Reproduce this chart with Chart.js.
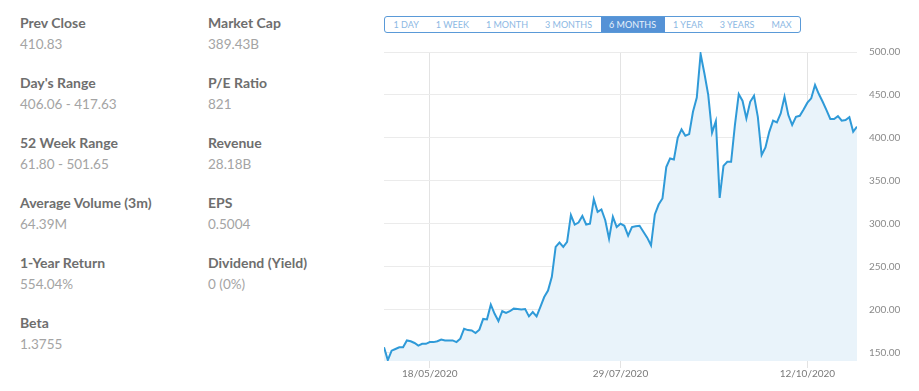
<!DOCTYPE html>
<html lang="en">

<head>
    <meta charset="UTF-8">
    <title>Stock Overview</title>
    <script src="https://cdn.jsdelivr.net/npm/chart.js"></script>
    <style>
        body {
            margin: 0;
            width: 919px;
            height: 391px;
            background: #fff;
            font-family: Lato, "Open Sans", sans-serif;
            position: relative;
            overflow: hidden;
        }

        .stat {
            position: absolute;
        }

        .stat .label {
            font-size: 14px;
            font-weight: 700;
            color: #6e6e6e;
            line-height: 14px;
        }

        .stat .value {
            font-size: 13.5px;
            color: #a4a4a4;
            line-height: 14px;
            margin-top: 7px;
        }

        .ranges {
            position: absolute;
            left: 384px;
            top: 16px;
            height: 15px;
            display: flex;
            border: 1px solid #5a9ad8;
            border-radius: 3px;
            overflow: hidden;
        }

        .ranges div {
            padding: 0 8.5px;
            font-size: 9px;
            line-height: 15px;
            color: #8cb8e3;
        }

        .ranges div.active {
            background: #5592d6;
            color: #e8f1fb;
        }

        .chart-box {
            position: absolute;
            left: 384px;
            top: 34px;
            width: 535px;
            height: 357px;
        }
    </style>
</head>

<body>

    <div id="stats"></div>

    <div class="ranges" id="ranges"></div>

    <div class="chart-box">
        <canvas id="price-chart"></canvas>
    </div>

    <script>
        const statLabels = ['Prev Close', "Day's Range", '52 Week Range', 'Average Volume (3m)', '1-Year Return', 'Beta',
            'Market Cap', 'P/E Ratio', 'Revenue', 'EPS', 'Dividend (Yield)'];
        const statValues = ['410.83', '406.06 - 417.63', '61.80 - 501.65', '64.39M', '554.04%', '1.3755',
            '389.43B', '821', '28.18B', '0.5004', '0 (0%)'];

        const rangeLabels = ['1 DAY', '1 WEEK', '1 MONTH', '3 MONTHS', '6 MONTHS', '1 YEAR', '3 YEARS', 'MAX'];
        const activeRange = '6 MONTHS';

        // closing prices, one per trading day
        const prices = [
            156, 141, 152, 154, 156, 156, 164, 163, 161, 158, 160, 160, 162, 162, 163, 165, 164, 164, 164, 162,
            166, 177.6, 176, 175.5, 172.5, 176.5, 189, 188.5, 205.6, 195, 186.6, 198, 196, 198,
            201, 200.5, 200, 200.5, 192, 197, 192, 203, 214.5, 222, 238, 273, 278, 273, 278.7, 310,
            299, 301.3, 309, 299, 300, 328.5, 313.7, 316.5, 304, 282.6, 308, 296, 300,
            297.5, 286, 296, 297, 297.5, 290.6, 283.7, 274.8, 310.7, 322.3, 329.3, 366, 376, 374.8, 400, 409.8,
            402.4, 404.3, 430.4, 447, 497.7, 475, 450, 406, 419.5, 330, 367.3, 372, 372,
            415, 451, 443, 422.6, 442, 449, 424.5, 380, 388.8, 407, 420, 418, 428.5, 448, 426.5, 415,
            424.5, 425.7, 433, 441, 446, 461.5, 451, 442, 432.3, 422, 422, 425.3, 420, 420.7, 424, 407, 413
        ];

        const dateTickIndex = [12, 62, 111];
        const dateTickLabels = ['18/05/2020', '29/07/2020', '12/10/2020'];
        const priceTicks = [150, 200, 250, 300, 350, 400, 450, 500];

        // left side stats, two columns
        const statsEl = document.getElementById('stats');
        statLabels.forEach((label, i) => {
            const col = i < 6 ? 0 : 1;
            const row = col === 0 ? i : i - 6;
            const div = document.createElement('div');
            div.className = 'stat';
            div.style.left = (col === 0 ? 20 : 208) + 'px';
            div.style.top = (16 + row * 60) + 'px';
            div.innerHTML = '<div class="label"></div><div class="value"></div>';
            div.querySelector('.label').textContent = label;
            div.querySelector('.value').textContent = statValues[i];
            statsEl.appendChild(div);
        });

        const rangesEl = document.getElementById('ranges');
        rangeLabels.forEach(r => {
            const b = document.createElement('div');
            b.textContent = r;
            if (r === activeRange) b.className = 'active';
            rangesEl.appendChild(b);
        });

        const ctx = document.getElementById('price-chart').getContext('2d');
        new Chart(ctx, {
            type: 'line',
            data: {
                datasets: [{
                    data: prices.map((p, i) => ({ x: i, y: p })),
                    borderColor: '#2f9ad8',
                    borderWidth: 2,
                    backgroundColor: '#e9f3fa',
                    fill: 'start',
                    pointRadius: 0,
                    tension: 0
                }]
            },
            options: {
                responsive: true,
                maintainAspectRatio: false,
                animation: false,
                layout: { padding: { top: 6, left: 0, right: 0, bottom: 0 } },
                plugins: {
                    legend: { display: false },
                    tooltip: { enabled: false }
                },
                scales: {
                    x: {
                        type: 'linear',
                        min: 0,
                        max: prices.length - 1,
                        afterBuildTicks: scale => {
                            scale.ticks = dateTickIndex.map(v => ({ value: v }));
                        },
                        afterFit: scale => { scale.height = 30; },
                        ticks: {
                            autoSkip: false,
                            maxRotation: 0,
                            padding: 0,
                            color: '#7a7a7a',
                            font: { family: 'Lato', size: 10 },
                            callback: v => dateTickLabels[dateTickIndex.indexOf(v)]
                        },
                        grid: {
                            color: '#e3e3e3',
                            tickLength: 7
                        },
                        border: { display: false }
                    },
                    y: {
                        position: 'right',
                        min: 140,
                        max: 500,
                        afterBuildTicks: scale => {
                            scale.ticks = priceTicks.map(v => ({ value: v }));
                        },
                        afterFit: scale => { scale.width = 62; },
                        ticks: {
                            padding: 12,
                            color: '#8a8a8a',
                            font: { family: 'Lato', size: 10 },
                            callback: v => v.toFixed(2)
                        },
                        grid: {
                            color: '#ebebeb',
                            drawTicks: false
                        },
                        border: { display: false }
                    }
                }
            }
        });
    </script>

</body>

</html>
